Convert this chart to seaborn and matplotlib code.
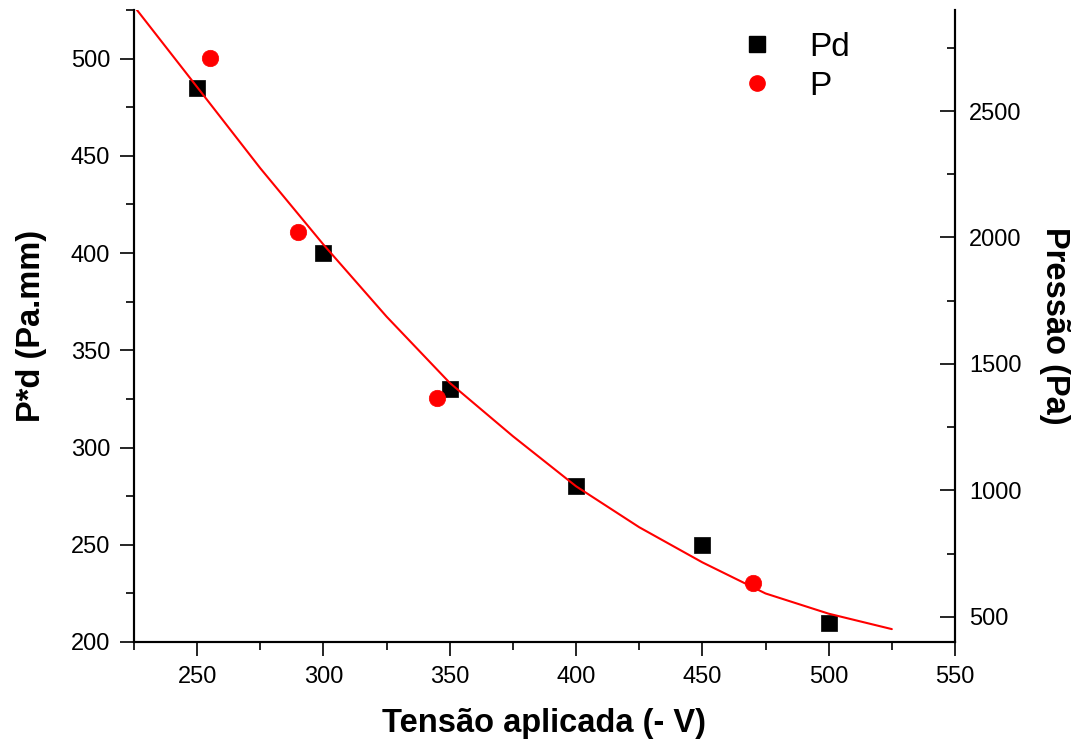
import numpy as np
import pandas as pd
import matplotlib
matplotlib.use('Agg')
import matplotlib.pyplot as plt
import seaborn as sns
from matplotlib.ticker import MultipleLocator
from matplotlib.lines import Line2D

# Dados
tensao_pd = [250, 300, 350, 400, 450, 500]
pd_vals = [485, 400, 330, 280, 250, 210]

tensao_p = [255, 290, 345, 470]
p_vals = [2710, 2022, 1365, 635]

# Curva de ajuste (eixo da direita)
tensao_fit = [225, 250, 275, 300, 325, 350, 375, 400, 425, 450, 475, 500, 525]
p_fit = [2915, 2595, 2274, 1972, 1687, 1425, 1214, 1016, 854, 715, 592, 512, 451]

df_pd = pd.DataFrame({'Tensao': tensao_pd, 'Pd': pd_vals})
df_p = pd.DataFrame({'Tensao': tensao_p, 'P': p_vals})
df_fit = pd.DataFrame({'Tensao': tensao_fit, 'P': p_fit})

sns.set_style('ticks')
plt.rcParams['font.family'] = ['Liberation Sans', 'DejaVu Sans']
plt.rcParams.update({'text.color': 'black', 'axes.labelcolor': 'black',
                     'xtick.color': 'black', 'ytick.color': 'black',
                     'axes.edgecolor': 'black'})

fig = plt.figure(figsize=(10.77, 7.44), dpi=100)
ax = fig.add_axes([0.1244, 0.1371, 0.8867 - 0.1244, 0.9866 - 0.1371])
ax2 = ax.twinx()

sns.scatterplot(x='Tensao', y='Pd', data=df_pd, ax=ax, marker='s', color='black',
                s=130, edgecolor='black', linewidth=0.5, zorder=3)
sns.lineplot(x='Tensao', y='P', data=df_fit, ax=ax2, color='red', linewidth=1.5, zorder=2)
sns.scatterplot(x='Tensao', y='P', data=df_p, ax=ax2, marker='o', color='red',
                s=140, edgecolor='red', linewidth=0.5, zorder=3)

ax.set_xlim(225, 550)
ax.set_ylim(200, 525)
ax2.set_ylim(400, 2900)

ax.xaxis.set_major_locator(MultipleLocator(50))
ax.xaxis.set_minor_locator(MultipleLocator(25))
ax.yaxis.set_major_locator(MultipleLocator(50))
ax.yaxis.set_minor_locator(MultipleLocator(25))
ax2.yaxis.set_major_locator(MultipleLocator(500))
ax2.yaxis.set_minor_locator(MultipleLocator(250))

for a in (ax, ax2):
    a.spines['top'].set_visible(False)
    for s in a.spines.values():
        s.set_linewidth(1.5)
        s.set_color('black')

ax.tick_params(axis='both', which='major', direction='out', length=10, width=1.2,
               labelsize=17, pad=7)
ax.tick_params(axis='both', which='minor', direction='out', length=6, width=1.2)
ax.tick_params(axis='y', which='both', right=False)
ax2.tick_params(axis='y', which='major', direction='in', length=11, width=1.2,
                labelsize=17, pad=10)
ax2.tick_params(axis='y', which='minor', direction='in', length=6, width=1.2)

ax.set_xlabel('Tensão aplicada (- V)', fontsize=23.5, fontweight='bold', labelpad=15)
ax.set_ylabel('P*d (Pa.mm)', fontsize=23.5, fontweight='bold', labelpad=17)
ax2.set_ylabel('Pressão (Pa)', fontsize=23.5, fontweight='bold', labelpad=13, rotation=270,
               va='bottom')

handles = [
    Line2D([], [], marker='s', color='black', linestyle='none', markersize=11),
    Line2D([], [], marker='o', color='red', linestyle='none', markersize=11),
]
ax2.legend(handles, ['Pd', 'P'], loc='upper left', bbox_to_anchor=(0.682, 1.013),
           frameon=False, fontsize=24, handletextpad=0.55, labelspacing=0.25)

fig.savefig('out.png', dpi=100)
